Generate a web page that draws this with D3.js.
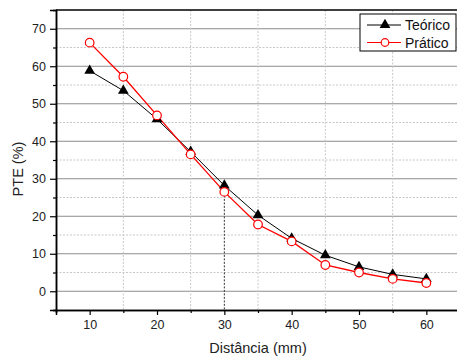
<!DOCTYPE html>
<html>
<head>
<meta charset="utf-8">
<script src="https://cdn.jsdelivr.net/npm/d3@7"></script>
<style>
  body { margin: 0; background: #fff; }
  text { font-family: "Liberation Sans", Arial, sans-serif; }
</style>
</head>
<body>
<div id="chart"></div>
<script>
// dados
var distancias = [10, 15, 20, 25, 30, 35, 40, 45, 50, 55, 60];
var teorico = [58.8, 53.5, 45.9, 37.2, 28.2, 20.3, 14.1, 9.6, 6.5, 4.5, 3.3];
var pratico = [66.3, 57.2, 46.9, 36.5, 26.5, 17.8, 13.3, 7.0, 5.0, 3.3, 2.2];
var xTicks = [10, 20, 30, 40, 50, 60];
var yTicks = [0, 10, 20, 30, 40, 50, 60, 70];

var margin = {top: 10, right: -3, bottom: 48, left: 56},
    width = 457 - margin.left - margin.right,
    height = 358 - margin.top - margin.bottom;

var svg = d3.select("#chart")
  .append("svg")
  .attr("width", 457)
  .attr("height", 358)
  .append("g")
  .attr("transform", "translate(" + margin.left + "," + margin.top + ")");

var x = d3.scaleLinear().domain([5, 65]).range([0, width]);
var y = d3.scaleLinear().domain([-5, 75]).range([height, 0]);

// grade: horizontais pontilhadas nos 5, sólidas nos 10
svg.selectAll(".gy-minor")
  .data(d3.range(5, 75, 10))
  .enter().append("line")
  .attr("x1", 0).attr("x2", width)
  .attr("y1", function(d){ return y(d) }).attr("y2", function(d){ return y(d) })
  .attr("stroke", "#c8c8c8").attr("stroke-dasharray", "2,1.5").attr("stroke-width", 1);

svg.selectAll(".gy-major")
  .data(yTicks)
  .enter().append("line")
  .attr("x1", 0).attr("x2", width)
  .attr("y1", function(d){ return y(d) }).attr("y2", function(d){ return y(d) })
  .attr("stroke", "#8c8c8c").attr("stroke-width", 1);

// verticais pontilhadas em 15, 25, ...
svg.selectAll(".gx")
  .data(d3.range(15, 65, 10))
  .enter().append("line")
  .attr("y1", 0).attr("y2", height)
  .attr("x1", function(d){ return x(d) }).attr("x2", function(d){ return x(d) })
  .attr("stroke", "#c8c8c8").attr("stroke-dasharray", "2,1.5").attr("stroke-width", 1);

// linha de queda em 30
svg.append("line")
  .attr("x1", x(30)).attr("x2", x(30))
  .attr("y1", y(pratico[4])).attr("y2", height)
  .attr("stroke", "#333").attr("stroke-dasharray", "2,1.5").attr("stroke-width", 1);

// eixos
svg.append("g")
  .attr("transform", "translate(0," + height + ")")
  .call(d3.axisBottom(x).tickValues(xTicks).tickSize(5).tickPadding(5));
svg.append("g")
  .attr("transform", "translate(0," + height + ")")
  .call(d3.axisBottom(x).tickValues(d3.range(5, 65, 10)).tickSize(3).tickFormat(""));

svg.append("g")
  .call(d3.axisLeft(y).tickValues(yTicks).tickSize(6).tickPadding(4));
svg.append("g")
  .call(d3.axisLeft(y).tickValues(d3.range(-5, 75, 10)).tickSize(3).tickFormat(""));

svg.selectAll(".domain").attr("stroke", "#000").attr("stroke-width", 1.5);
svg.selectAll(".tick line").attr("stroke", "#000").attr("stroke-width", 1.2);
svg.selectAll(".tick text").attr("font-size", "12.5px").attr("fill", "#222")
  .style("font-family", "'Liberation Sans', Arial, sans-serif");

// borda superior
svg.append("line")
  .attr("x1", 0).attr("x2", width).attr("y1", 0).attr("y2", 0)
  .attr("stroke", "#000").attr("stroke-width", 1.5);

// séries
var line = function(vals) {
  return d3.line()
    .x(function(d, i){ return x(distancias[i]) })
    .y(function(d){ return y(d) })(vals);
};

svg.append("path").attr("d", line(teorico))
  .attr("fill", "none").attr("stroke", "#000").attr("stroke-width", 1);
svg.append("path").attr("d", line(pratico))
  .attr("fill", "none").attr("stroke", "#ff0000").attr("stroke-width", 1.3);

var tri = d3.symbol().type(d3.symbolTriangle).size(50);
svg.selectAll(".tri")
  .data(teorico)
  .enter().append("path")
  .attr("d", tri)
  .attr("transform", function(d, i){ return "translate(" + x(distancias[i]) + "," + y(d) + ")" })
  .attr("fill", "#000");

svg.selectAll(".circ")
  .data(pratico)
  .enter().append("circle")
  .attr("cx", function(d, i){ return x(distancias[i]) })
  .attr("cy", function(d){ return y(d) })
  .attr("r", 4.3)
  .attr("fill", "#fff").attr("stroke", "#ff0000").attr("stroke-width", 1.2);

// títulos dos eixos
svg.append("text")
  .attr("x", 258 - margin.left).attr("y", 353 - margin.top)
  .attr("text-anchor", "middle").attr("font-size", "14.5px").attr("fill", "#222")
  .text("Distância (mm)");

svg.append("text")
  .attr("transform", "translate(" + (23 - margin.left) + "," + (169 - margin.top) + ") rotate(-90)")
  .attr("text-anchor", "middle").attr("font-size", "14.5px").attr("fill", "#222")
  .text("PTE (%)");

// legenda
var lg = svg.append("g").attr("transform", "translate(" + (360 - margin.left) + "," + (14 - margin.top) + ")");
lg.append("rect").attr("width", 96).attr("height", 37)
  .attr("fill", "#fff").attr("stroke", "#000").attr("stroke-width", 1);
var series = [
  {name: "Teórico", color: "#000", marker: "tri"},
  {name: "Prático", color: "#ff0000", marker: "circ"}
];
series.forEach(function(s, i) {
  var cy = 11 + i * 17.5;
  lg.append("line").attr("x1", 7).attr("x2", 41).attr("y1", cy).attr("y2", cy)
    .attr("stroke", s.color).attr("stroke-width", 1.2);
  if (s.marker == "tri") {
    lg.append("path").attr("d", tri).attr("transform", "translate(25," + cy + ")").attr("fill", "#000");
  } else {
    lg.append("circle").attr("cx", 25).attr("cy", cy).attr("r", 3.8)
      .attr("fill", "#fff").attr("stroke", "#ff0000").attr("stroke-width", 1.2);
  }
  lg.append("text").attr("x", 45).attr("y", cy + 5).attr("font-size", "14px").attr("fill", "#111")
    .text(s.name);
});
</script>
</body>
</html>
